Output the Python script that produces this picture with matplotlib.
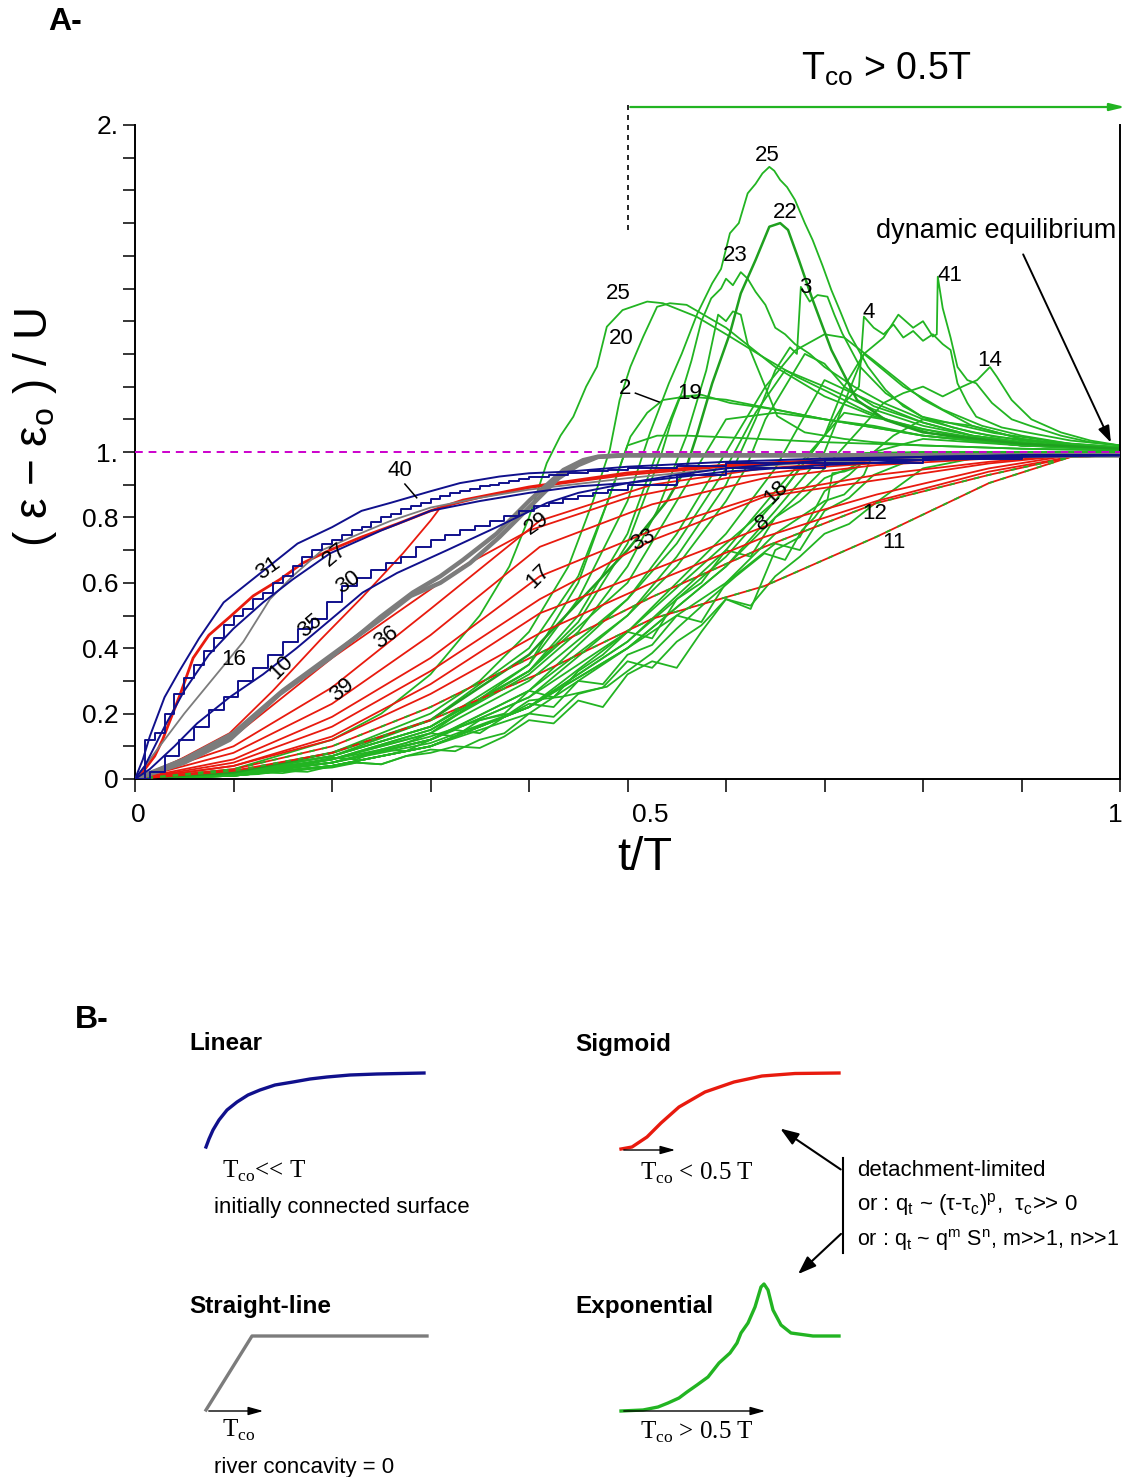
import matplotlib
matplotlib.use("Agg")
import matplotlib.pyplot as plt
import numpy as np

plt.rcParams['font.family'] = ['Liberation Sans', 'DejaVu Sans']

# ---------------- Panel A data (t/T , (eps-eps0)/U) ----------------
# blue ("linear") curves
t_b31 = [0, .008, .015, .03, .045, .065, .09, .115, .14, .165, .2, .23, .26, .3, .33, .37, .4, .44, .5, .6, .7, .8, .9, 1]
v_b31 = [0, .06, .13, .25, .33, .43, .54, .60, .66, .72, .77, .82, .845, .88, .905, .925, .935, .94, .955, .97, .98, .985, .99, .99]
t_b27 = [0, .01, .02, .03, .04, .05, .06, .07, .08, .09, .10, .11, .12, .13, .14, .15, .16, .17, .18, .19, .20,
         .21, .22, .23, .24, .25, .26, .27, .28, .29, .30, .31, .32, .33, .34, .35, .36, .37, .38, .39, .40,
         .42, .44, .46, .48, .50, .55, .6, .7, .8, .9, 1]
v_b27 = [0, .12, .14, .2, .26, .31, .35, .39, .43, .47, .50, .52, .55, .57, .60, .62, .65, .68, .70, .72, .73,
         .745, .76, .77, .785, .80, .81, .825, .835, .845, .855, .865, .875, .882, .888, .895, .90, .905, .912, .918, .924,
         .93, .937, .942, .946, .95, .958, .965, .975, .985, .99, .99]
t_bmid = [0, .01, .03, .05, .075, .1, .13, .16, .198, .25, .3, .35, .4, .45, .5, .6, .7, .8, .9, 1]
v_bmid = [0, .04, .16, .27, .38, .46, .54, .61, .69, .76, .82, .85, .875, .895, .905, .94, .96, .975, .985, .99]
t_b30 = [0, .015, .03, .045, .06, .075, .09, .105, .12, .135, .15, .165, .18, .195, .21, .225, .24, .255, .27, .285,
         .30, .315, .33, .345, .36, .375, .39, .405, .42, .435, .45, .465, .48, .5, .55, .6, .7, .8, .9, 1]
v_b30 = [0, .02, .07, .12, .16, .21, .25, .30, .34, .38, .42, .46, .49, .54, .59, .615, .64, .66, .68, .71,
         .73, .745, .76, .775, .79, .805, .82, .835, .845, .855, .865, .875, .885, .9, .93, .95, .965, .98, .99, .99]
t_b35 = [0, .015, .04, .063, .096, .13, .164, .198, .231, .266, .317, .367, .418, .45, .5, .55, .6, .7, .8, .9, 1]
v_b35 = [0, .03, .1, .17, .25, .32, .40, .486, .57, .63, .70, .77, .844, .875, .905, .93, .95, .975, .985, .99, .99]

# grey ("straight-line") curves
t_g16 = [0, .02, .05, .08, .11, .137, .16, .19, .22, .26, .3, .35, .4, .5, .6, .7, .8, .9, 1]
v_g16 = [0, .08, .2, .31, .42, .55, .62, .7, .74, .79, .83, .86, .885, .92, .95, .97, .98, .99, .99]
t_g36 = [0, .05, .096, .147, .198, .231, .249, .282, .31, .333, .367, .401, .435, .455, .469, .49, .52, .6, .7, .8, .9, 1]
v_g36 = [0, .05, .12, .26, .37, .45, .495, .57, .62, .67, .75, .853, .945, .975, .985, .99, .99, .99, .99, .99, .99, .99]
t_g39 = [0, .05, .1, .15, .2, .25, .28, .31, .34, .37, .4, .43, .45, .47, .5, .6, .7, .8, .9, 1]
v_g39 = [0, .06, .14, .27, .38, .49, .56, .60, .66, .74, .83, .92, .96, .985, .99, .99, .99, .99, .99, .99]

# red ("sigmoid") curves
t_r27 = [0, .005, .01, .02, .028, .037, .046, .059, .075, .096, .12, .147, .17, .198, .23, .266, .3, .333, .4, .5, .6, .7, .8, .9, 1]
v_r27 = [0, .01, .03, .07, .12, .19, .26, .37, .44, .495, .56, .61, .66, .70, .74, .78, .82, .853, .893, .936, .96, .975, .985, .99, .99]
t_r10 = [0, .02, .046, .096, .14, .188, .231, .272, .3, .31, .35, .4, .5, .6, .7, .8, .9, 1]
v_r10 = [0, .02, .06, .14, .27, .425, .557, .69, .79, .83, .86, .89, .93, .955, .975, .985, .99, .99]
t_rg = [0, .1, .2, .3, .333, .4, .5, .6, .7, .8, .9, 1]
v_rg = [0, .13, .37, .58, .65, .76, .86, .92, .955, .975, .99, .99]
t_red = [0, .1, .2, .3, .411, .525, .639, .753, .867, .95, 1]
v_r29 = [0, .10, .28, .52, .79, .90, .95, .975, .985, .99, .99]
v_r17 = [0, .08, .23, .44, .71, .84, .92, .96, .98, .99, .99]
v_r33 = [0, .06, .19, .37, .62, .76, .87, .93, .97, .99, .99]
v_r18 = [0, .05, .16, .33, .55, .73, .863, .914, .965, .99, .99]
v_r8 = [0, .04, .13, .29, .507, .639, .772, .87, .95, .99, .99]
v_rx = [0, .04, .12, .26, .446, .60, .74, .85, .94, .985, .99]
v_r12 = [0, .03, .10, .22, .385, .557, .71, .844, .93, .985, .99]
v_r11 = [0, .025, .08, .18, .323, .49, .59, .741, .905, .985, .99]

# green ("exponential") curves
t_g25a = [0, .1, .2, .25, .3, .35, .38, .4, .418, .432, .445, .458, .469, .479, .495, .52, .536, .57, .604, .638, .672, .706, .74, .773, .807, .85, .9, .95, 1]
v_g25a = [0, .03, .12, .2, .32, .5, .65, .8, .966, 1.05, 1.108, 1.2, 1.261, 1.383, 1.434, 1.46, 1.455, 1.414, 1.353, 1.29, 1.23, 1.18, 1.128, 1.088, 1.058, 1.035, 1.02, 1.012, 1.01]
t_g20 = [0, .1, .2, .3, .35, .4, .44, .465, .482, .492, .503, .516, .53, .543, .56, .6, .65, .7, .75, .8, .85, .9, .95, 1]
v_g20 = [0, .02, .08, .2, .3, .45, .65, .85, 1.006, 1.159, 1.261, 1.353, 1.444, 1.455, 1.45, 1.38, 1.26, 1.17, 1.11, 1.07, 1.045, 1.025, 1.015, 1.01]
t_g2 = [0, .1, .2, .3, .4, .45, .48, .503, .52, .536, .56, .6, .65, .7, .8, .9, 1]
v_g2 = [0, .02, .07, .18, .4, .62, .85, 1.047, 1.12, 1.159, 1.17, 1.16, 1.13, 1.1, 1.05, 1.02, 1.01]
t_g19 = [0, .1, .2, .3, .4, .45, .5, .53, .553, .575, .604, .65, .7, .75, .8, .9, 1]
v_g19 = [0, .02, .06, .15, .33, .5, .75, 1.0, 1.169, 1.175, 1.15, 1.13, 1.1, 1.08, 1.05, 1.02, 1.01]
t_glow = [0, .1, .2, .3, .4, .45, .48, .5, .53, .56, .6, .7, .8, .9, 1]
v_glow = [0, .02, .06, .14, .35, .6, .85, 1.02, 1.05, 1.05, 1.045, 1.03, 1.02, 1.01, 1.005]
t_g23 = [0, .1, .2, .3, .4, .45, .5, .52, .535, .545, .555, .565, .575, .585, .595, .6, .607, .615, .622, .63, .64, .65, .66, .67, .685, .7, .73, .76, .8, .85, .9, .95, 1]
v_g23 = [0, .02, .07, .16, .33, .48, .72, .88, 1.0, 1.1, 1.18, 1.28, 1.4, 1.47, 1.5, 1.53, 1.51, 1.55, 1.53, 1.49, 1.45, 1.38, 1.36, 1.33, 1.3, 1.26, 1.2, 1.15, 1.1, 1.06, 1.035, 1.02, 1.01]
t_g23b = [0, .1, .2, .3, .4, .45, .5, .53, .56, .58, .592, .6, .607, .615, .622, .637, .652, .68, .72, .75, .8, .85, .9, 1]
v_g23b = [0, .015, .06, .15, .32, .45, .65, .82, 1.05, 1.25, 1.42, 1.4, 1.43, 1.42, 1.33, 1.22, 1.11, 1.06, 1.04, 1.03, 1.02, 1.015, 1.01, 1.005]
t_g22 = [0, .1, .2, .3, .4, .5, .54, .56, .571, .586, .604, .615, .63, .644, .655, .663, .674, .688, .707, .733, .762, .8, .835, .9, 1]
v_g22 = [0, .02, .08, .18, .38, .7, .85, .955, 1.057, 1.21, 1.363, 1.485, 1.587, 1.689, 1.7, 1.679, 1.587, 1.465, 1.312, 1.159, 1.098, 1.06, 1.047, 1.025, 1.01]
t_g25b = [0, .1, .2, .3, .4, .45, .5, .523, .542, .555, .571, .586, .595, .604, .613, .622, .63, .637, .644, .649, .655, .662, .67, .68, .688, .698, .707, .716, .725, .744, .762, .78, .799, .83, .872, .93, 1]
v_g25b = [0, .02, .07, .16, .35, .55, .85, 1.06, 1.21, 1.3, 1.424, 1.516, 1.56, 1.669, 1.7, 1.791, 1.82, 1.852, 1.872, 1.86, 1.832, 1.81, 1.771, 1.7, 1.648, 1.57, 1.495, 1.43, 1.363, 1.261, 1.19, 1.14, 1.108, 1.075, 1.047, 1.03, 1.015]
t_g3 = [0, .1, .2, .3, .4, .5, .55, .6, .63, .65, .665, .672, .676, .685, .693, .703, .71, .718, .736, .762, .799, .872, .95, 1]
v_g3 = [0, .015, .05, .12, .25, .5, .68, .9, 1.1, 1.25, 1.32, 1.3, 1.505, 1.46, 1.48, 1.475, 1.42, 1.363, 1.261, 1.18, 1.108, 1.058, 1.025, 1.015]
t_g4 = [0, .1, .2, .3, .4, .5, .6, .65, .7, .72, .735, .74, .75, .76, .77, .78, .79, .8, .81, .82, .828, .835, .845, .854, .88, .909, .95, 1]
v_g4 = [0, .015, .05, .12, .25, .45, .72, .85, 1.05, 1.15, 1.2, 1.414, 1.38, 1.36, 1.39, 1.35, 1.37, 1.34, 1.36, 1.33, 1.312, 1.21, 1.15, 1.108, 1.075, 1.058, 1.035, 1.02]
t_g41 = [0, .1, .2, .3, .4, .5, .6, .65, .7, .72, .74, .76, .775, .79, .8, .81, .814, .815, .82, .828, .835, .845, .854, .87, .89, .909, .94, .97, 1]
v_g41 = [0, .01, .04, .1, .22, .42, .68, .85, 1.05, 1.2, 1.3, 1.35, 1.42, 1.38, 1.4, 1.353, 1.36, 1.536, 1.44, 1.35, 1.26, 1.22, 1.21, 1.15, 1.1, 1.08, 1.05, 1.03, 1.02]
t_g14 = [0, .1, .2, .3, .4, .5, .6, .65, .7, .73, .76, .78, .8, .82, .84, .855, .868, .875, .89, .91, .94, .97, 1]
v_g14 = [0, .01, .04, .1, .22, .4, .65, .8, .95, 1.05, 1.15, 1.18, 1.2, 1.17, 1.2, 1.22, 1.26, 1.23, 1.159, 1.1, 1.06, 1.035, 1.02]
t_gdome = [0, .1, .2, .3, .4, .5, .55, .6, .64, .67, .7, .72, .75, .8, .85, .9, .95, 1]
v_gdome = [0, .015, .05, .12, .27, .55, .75, 1.0, 1.2, 1.31, 1.36, 1.35, 1.28, 1.16, 1.08, 1.04, 1.02, 1.01]
t_gO = [0, .1, .2, .3, .4, .5, .55, .6, .63, .66, .7, .75, .8, .85, .9, .95, 1]
v_gO = [0, .015, .06, .14, .3, .55, .72, .95, 1.12, 1.25, 1.2, 1.13, 1.08, 1.05, 1.03, 1.015, 1.01]
t_gP = [0, .1, .2, .3, .4, .5, .55, .6, .62, .64, .66, .68, .7, .72, .75, .8, .85, .9, .95, 1]
v_gP = [0, .01, .05, .12, .27, .5, .65, .85, .95, 1.1, 1.2, 1.3, 1.27, 1.2, 1.14, 1.09, 1.05, 1.03, 1.015, 1.01]
t_gQ = [0, .1, .2, .3, .4, .5, .6, .65, .7, .75, .8, .85, .9, .95, 1]
v_gQ = [0, .01, .04, .1, .22, .45, .75, .95, 1.22, 1.15, 1.09, 1.05, 1.03, 1.015, 1.01]
t_gR = [0, .1, .2, .3, .4, .5, .6, .65, .7, .74, .78, .82, .86, .9, .95, 1]
v_gR = [0, .01, .04, .1, .2, .4, .65, .82, 1.0, 1.3, 1.2, 1.13, 1.08, 1.05, 1.025, 1.01]
t_gS = [0, .1, .2, .3, .4, .5, .55, .6, .65, .7, .8, .9, 1]
v_gS = [0, .02, .07, .16, .33, .6, .85, 1.1, 1.12, 1.1, 1.05, 1.02, 1.01]
t_gT = [0, .1, .2, .3, .4, .5, .6, .65, .7, .72, .76, .8, .85, .9, 1]
v_gT = [0, .01, .04, .1, .22, .42, .7, .88, 1.05, 1.12, 1.1, 1.07, 1.04, 1.02, 1.01]
t_gU = [0, .05, .1, .15, .2, .25, .3, .35, .38, .4, .434, .46, .479, .5, .525, .55, .582, .61, .639, .66, .677, .69, .703, .708, .72, .734, .741, .8, .9, 1]
v_gU = [0, .005, .015, .03, .05, .09, .13, .18, .2, .24, .252, .27, .282, .33, .385, .46, .547, .62, .69, .67, .76, .8, .853, .935, .94, .955, .997, 1.0, 1.0, 1.0]
t_gV = [0, .1, .2, .3, .4, .5, .55, .6, .65, .7, .72, .74, .75, .77, .8, .85, .9, .95, 1]
v_gV = [0, .015, .05, .11, .22, .4, .5, .6, .75, .85, .87, .93, 1.0, 1.05, 1.1, 1.08, 1.04, 1.02, 1.01]
# jagged low-band green curves
t_jag = [0, .025, .05, .075, .1, .125, .15, .175, .2, .225, .25, .275, .3, .325, .35, .375, .4, .425,
         .45, .475, .5, .525, .55, .575, .6, .625, .65, .675, .7, .725, .75, .8, .85, .9, 1]
v_gW = [0, .003, .006, .01, .012, .02, .018, .03, .035, .05, .045, .07, .08, .1, .095, .13, .18, .17,
        .24, .22, .32, .36, .34, .45, .55, .52, .7, .74, .88, .93, 1.0, 1.04, 1.03, 1.02, 1.01]
v_gX = [0, .005, .01, .02, .025, .035, .03, .05, .065, .06, .09, .11, .14, .13, .18, .2, .27, .25,
        .33, .38, .45, .43, .55, .6, .7, .68, .8, .85, .92, .95, .99, 1.0, 1.0, 1.0, 1.0]
v_gY = [0, .002, .005, .008, .012, .015, .025, .022, .04, .05, .045, .07, .09, .085, .12, .14, .2, .19,
        .26, .28, .36, .34, .42, .47, .55, .53, .62, .68, .75, .78, .84, .95, .98, .995, 1.0]
v_gZ = [0, .004, .008, .015, .02, .03, .04, .045, .06, .075, .09, .085, .12, .15, .14, .19, .23, .22,
        .3, .29, .38, .41, .5, .48, .6, .66, .72, .7, .82, .86, .93, .99, 1.0, 1.0, 1.0]

# axis ticks
y_ticks = [round(0.1 * i, 1) for i in range(21)]
y_tick_labels = ['0', '', '0.2', '', '0.4', '', '0.6', '', '0.8', '', '1.',
                 '', '', '', '', '', '', '', '', '', '2.']
x_ticks = [round(0.1 * i, 1) for i in range(11)]
x_label_pos = [0.003, 0.523, 0.995]
x_label_txt = ['0', '0.5', '1']

# curve labels: (text, t, v, rotation)
curve_labels = [
    ('40', .269, .942, 0), ('31', .135, .645, 35), ('27', .203, .685, 40),
    ('16', .1005, .364, 0), ('30', .216, .602, 35), ('35', .178, .468, 40),
    ('10', .148, .343, 45), ('36', .255, .434, 35), ('39', .210, .272, 40),
    ('29', .408, .783, 35), ('17', .409, .621, 45), ('33', .516, .731, 30),
    ('18', .651, .878, 45), ('8', .637, .783, 30), ('12', .751, .813, 0),
    ('11', .770, .722, 0), ('25', .4904, 1.486, 0), ('20', .4934, 1.346, 0),
    ('2', .4975, 1.193, 0), ('19', .5635, 1.180, 0), ('23', .609, 1.602, 0),
    ('22', .660, 1.731, 0), ('25', .642, 1.908, 0), ('3', .680, 1.502, 0),
    ('4', .745, 1.428, 0), ('41', .827, 1.541, 0), ('14', .868, 1.281, 0),
]

# ---------------- Panel B schematic data (pixel space) ----------------
lin_x = [206, 209, 213, 219, 227, 237, 248, 260, 275, 293, 310, 327, 350, 377, 400, 424]
lin_y = [1147, 1139, 1130, 1120, 1110, 1102, 1095, 1090, 1085, 1082, 1079, 1077, 1075, 1074, 1073.5, 1073]
sig_x = [621, 632, 647, 661, 679, 705, 734, 762, 795, 839]
sig_y = [1149, 1147, 1137, 1123, 1107, 1092, 1082, 1076, 1073.5, 1073]
str_x = [206, 252, 427]
str_y = [1410, 1336, 1336]
exp_x = [621, 643, 658, 668, 679, 687, 697, 708, 719, 730, 737, 741, 748, 755, 761, 764, 768, 773, 781, 791, 813, 839]
exp_y = [1411, 1410, 1407, 1403, 1398, 1392, 1385, 1377, 1363, 1353, 1343, 1333, 1323, 1307, 1287, 1284, 1290, 1310, 1325, 1333, 1336, 1336]

BLUE = '#10108C'
RED = '#E81A0E'
GREEN = '#22B422'
GREY = '#7C7C7C'
MAGENTA = '#CC00CC'

W, H = 1127, 1477
fig = plt.figure(figsize=(W / 100, H / 100), dpi=100)

# background axes in pixel coordinates for panel B and decorations
axb = fig.add_axes([0, 0, 1, 1])
axb.set_xlim(0, W)
axb.set_ylim(H, 0)
axb.axis('off')

ax = fig.add_axes([135 / W, (H - 779) / H, 985 / W, 654 / H])
ax.set_xlim(0, 1)
ax.set_ylim(0, 2)
ax.patch.set_alpha(0)

greens = [(t_jag, v_gW), (t_jag, v_gX), (t_jag, v_gY), (t_jag, v_gZ), (t_gU, v_gU), (t_gV, v_gV),
          (t_gS, v_gS), (t_gT, v_gT), (t_gQ, v_gQ), (t_gR, v_gR), (t_gP, v_gP),
          (t_gO, v_gO), (t_gdome, v_gdome), (t_g14, v_g14), (t_g41, v_g41),
          (t_g4, v_g4), (t_g3, v_g3), (t_g23b, v_g23b), (t_g23, v_g23),
          (t_glow, v_glow), (t_g19, v_g19), (t_g2, v_g2), (t_g20, v_g20),
          (t_g25a, v_g25a), (t_g25b, v_g25b)]
for t, v in greens:
    ax.plot(t, v, color=GREEN, lw=1.3, zorder=2)
ax.plot(t_g22, v_g22, color='#1FA01F', lw=1.8, zorder=2)

reds = [v_r29, v_r17, v_r33, v_r18, v_r8, v_rx, v_r12, v_r11]
for v in reds:
    ax.plot(t_red, v, color=RED, lw=1.3, zorder=3)
for v in (v_r12, v_r11):
    ax.plot(t_red, v, color=GREEN, lw=1.3, ls=(0, (3, 4)), zorder=3.1)
ax.plot(t_rg, v_rg, color=RED, lw=1.3, zorder=3)
ax.plot(t_r10, v_r10, color=RED, lw=1.3, zorder=3)
ax.plot(t_r27, v_r27, color=RED, lw=2.0, zorder=4)

ax.plot(t_g16, v_g16, color=GREY, lw=1.3, zorder=4)
ax.plot(t_g36, v_g36, color=GREY, lw=3.2, zorder=4)
ax.plot(t_g39, v_g39, color=GREY, lw=3.2, zorder=4)

ax.plot(t_b31, v_b31, color=BLUE, lw=1.4, zorder=5)
ax.plot(t_b27, v_b27, color=BLUE, lw=1.4, drawstyle='steps-post', zorder=5)
ax.plot(t_bmid, v_bmid, color=BLUE, lw=1.4, zorder=5)
ax.plot(t_b30, v_b30, color=BLUE, lw=1.4, drawstyle='steps-post', zorder=5)
ax.plot(t_b35, v_b35, color=BLUE, lw=1.4, zorder=5)

ax.axhline(1.0, color=MAGENTA, lw=1.4, ls=(0, (4, 3)), zorder=6)

for txt, t, v, rot in curve_labels:
    ax.text(t, v, txt, fontsize=16, ha='center', va='center', rotation=rot, zorder=7)
# leader lines for labels "40" and "2"
ax.plot([.274, .286], [.902, .860], color='k', lw=1.1, zorder=7)
ax.plot([.508, .532], [1.18, 1.153], color='k', lw=1.1, zorder=7)

# spines and ticks
ax.spines['top'].set_visible(False)
for s in ('left', 'bottom', 'right'):
    ax.spines[s].set_linewidth(1.4)
ax.set_yticks(y_ticks)
ax.set_yticklabels(y_tick_labels)
ax.set_xticks(x_ticks)
ax.set_xticklabels([''] * len(x_ticks))
ax.tick_params(axis='both', direction='out', length=9, width=1.1, labelsize=19, pad=3)
for pos, txt in zip(x_label_pos, x_label_txt):
    ax.text(pos, -0.055, txt, transform=ax.get_xaxis_transform(), ha='center', va='center', fontsize=19)

# top annotations
ax.plot([0.5, 0.5], [1.68, 2.06], color='k', lw=1.2, ls=(0, (3, 3)), clip_on=False)
ax.annotate('', xy=(1.008, 2.055), xytext=(0.5, 2.055),
            arrowprops=dict(arrowstyle='-|>,head_length=0.9,head_width=0.22', color=GREEN, lw=1.6),
            annotation_clip=False)
ax.text(0.763, 2.17, r'T$_{\mathregular{co}}$ > 0.5T', fontsize=27, ha='center', va='center', clip_on=False)
ax.text(0.874, 1.676, 'dynamic equilibrium', fontsize=19.5, ha='center', va='center')
ax.annotate('', xy=(0.992, 1.021), xytext=(0.9005, 1.612),
            arrowprops=dict(arrowstyle='-|>,head_length=1.0,head_width=0.35', color='k', lw=1.4))

fig.text(35 / W, 1 - 428 / H, r'( ε − ε$_{\mathregular{o}}$ ) / U', rotation=90,
         fontsize=33, ha='center', va='center')
fig.text(645 / W, 1 - 858 / H, 't/T', fontsize=34, ha='center', va='center')
fig.text(48 / W, 1 - 22 / H, 'A-', fontsize=23, fontweight='bold', ha='left', va='center')

# ---------------- Panel B ----------------
axb.text(75, 1020, 'B-', fontsize=23, fontweight='bold', ha='left', va='center')
axb.plot(lin_x, lin_y, color=BLUE, lw=2.4)
axb.plot(sig_x, sig_y, color=RED, lw=2.4)
axb.plot(str_x, str_y, color=GREY, lw=2.4)
axb.plot(exp_x, exp_y, color=GREEN, lw=2.4)

small = dict(arrowstyle='-|>,head_length=0.9,head_width=0.25', color='k', lw=1.0)
axb.annotate('', xy=(678, 1150), xytext=(621, 1150), arrowprops=small)
axb.annotate('', xy=(266, 1411), xytext=(206, 1411), arrowprops=small)
axb.annotate('', xy=(768, 1411), xytext=(621, 1411), arrowprops=small)

big = dict(arrowstyle='-|>,head_length=1.1,head_width=0.4', color='k', lw=1.5)
axb.plot([843, 843], [1158, 1253], color='k', lw=1.5)
axb.annotate('', xy=(778, 1127), xytext=(843, 1171), arrowprops=big)
axb.annotate('', xy=(796, 1276), xytext=(843, 1232), arrowprops=big)

for txt, x, y in [('Linear', 189, 1044), ('Sigmoid', 575, 1044),
                  ('Straight-line', 189, 1307), ('Exponential', 575, 1307)]:
    axb.text(x, y, txt, fontsize=17.5, fontweight='bold', ha='left', va='center')

serif = ['Liberation Serif', 'DejaVu Serif']
axb.text(222, 1178, r'T$_{\mathregular{co}}$<< T', fontsize=18, family=serif, ha='left', va='baseline')
axb.text(640, 1180, r'T$_{\mathregular{co}}$ < 0.5 T', fontsize=18, family=serif, ha='left', va='baseline')
axb.text(222, 1437, r'T$_{\mathregular{co}}$', fontsize=18, family=serif, ha='left', va='baseline')
axb.text(640, 1439, r'T$_{\mathregular{co}}$ > 0.5 T', fontsize=18, family=serif, ha='left', va='baseline')

axb.text(214, 1207, 'initially connected surface', fontsize=16, ha='left', va='center')
axb.text(214, 1467, 'river concavity = 0', fontsize=16, ha='left', va='center')
axb.text(857, 1171, 'detachment-limited', fontsize=16, ha='left', va='center')
axb.text(857, 1204, r'or : q$_{\mathregular{t}}$ ~ (τ-τ$_{\mathregular{c}}$)$^{\mathregular{p}}$,  τ$_{\mathregular{c}}$>> 0',
         fontsize=16, ha='left', va='center')
axb.text(857, 1240, r'or : q$_{\mathregular{t}}$ ~ q$^{\mathregular{m}}$ S$^{\mathregular{n}}$, m>>1, n>>1',
         fontsize=15.5, ha='left', va='center')

fig.savefig('out.png', dpi=100)
